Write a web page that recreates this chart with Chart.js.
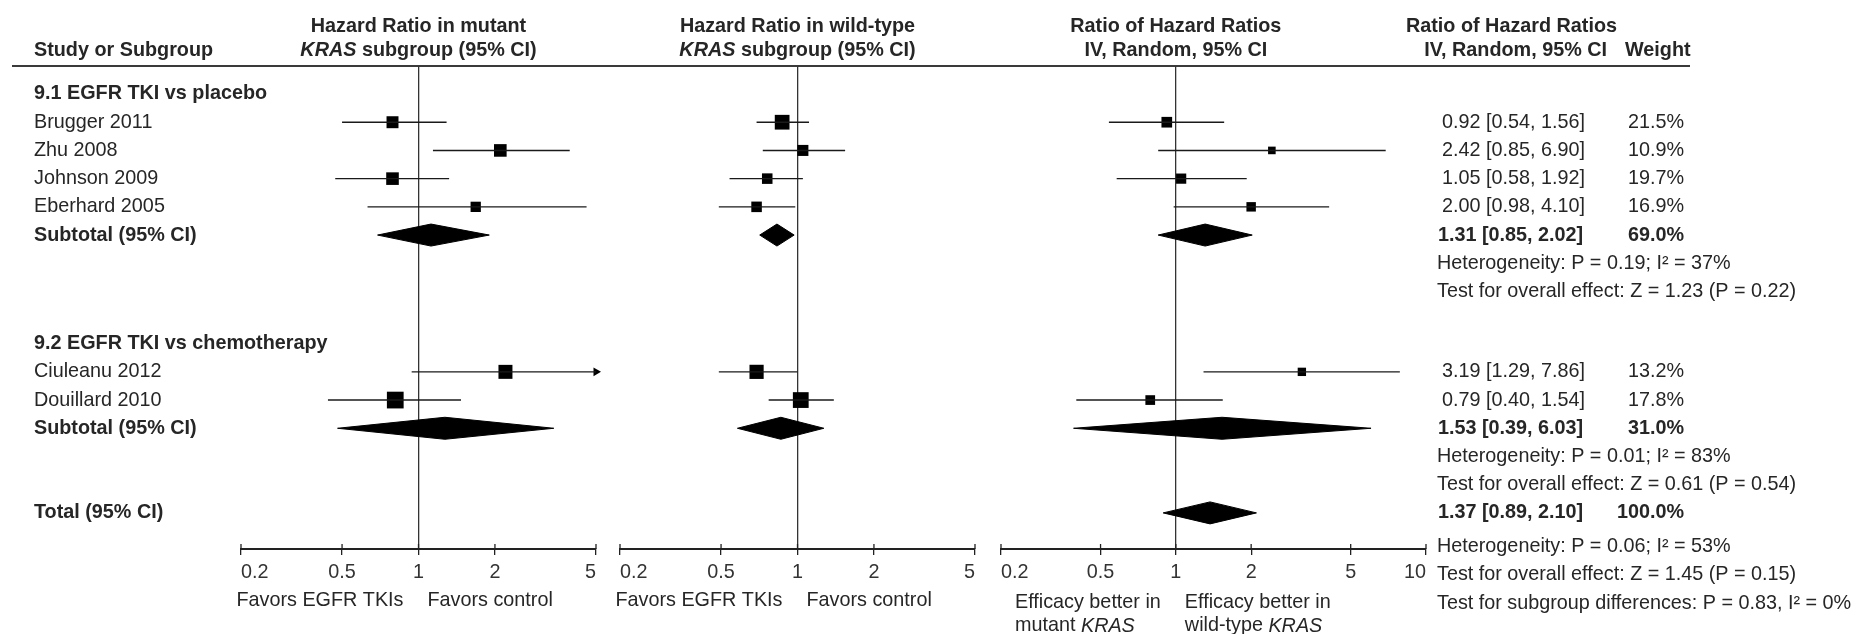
<!DOCTYPE html>
<html>
<head>
<meta charset="utf-8">
<title>KRAS forest plot</title>
<script src="https://cdn.jsdelivr.net/npm/chart.js@4.4.1/dist/chart.umd.min.js"></script>
<style>
  html, body { margin: 0; padding: 0; background: #fff; }
  #wrap { position: relative; width: 1859px; height: 634px; }
  #wrap canvas { position: absolute; left: 0; top: 0; }
</style>
</head>
<body>
<div id="wrap">
  <canvas id="table" width="1859" height="634"></canvas>
  <canvas id="mutant" width="1859" height="634"></canvas>
  <canvas id="wild" width="1859" height="634"></canvas>
  <canvas id="ratio" width="1859" height="634"></canvas>
</div>
<script>
// subgroups and studies
let groupNames = ["9.1 EGFR TKI vs placebo", "9.2 EGFR TKI vs chemotherapy"];
let studyNames = ["Brugger 2011", "Zhu 2008", "Johnson 2009", "Eberhard 2005", "Ciuleanu 2012", "Douillard 2010"];
let studyGroup = [0, 0, 0, 0, 1, 1];

// hazard ratio, mutant KRAS subgroup
let mutantHR = [0.79, 2.10, 0.79, 1.68, 2.20, 0.81];
let mutantLow = [0.50, 1.14, 0.47, 0.63, 0.94, 0.44];
let mutantHigh = [1.29, 3.94, 1.32, 4.59, 5.60, 1.47];
let mutantWeight = [27, 30, 30, 20, 37, 53];
let mutantSubHR = [1.12, 1.27];
let mutantSubLow = [0.69, 0.48];
let mutantSubHigh = [1.90, 3.41];

// hazard ratio, wild-type KRAS subgroup
let wildHR = [0.87, 1.05, 0.76, 0.69, 0.69, 1.03];
let wildLow = [0.69, 0.73, 0.54, 0.49, 0.49, 0.77];
let wildHigh = [1.11, 1.54, 1.05, 0.98, 1.00, 1.39];
let wildWeight = [41, 23, 21, 21, 38, 47];
let wildSubHR = [0.83, 0.86];
let wildSubLow = [0.71, 0.58];
let wildSubHigh = [0.97, 1.27];

// ratio of hazard ratios, IV random
let ratioHR = [0.92, 2.42, 1.05, 2.00, 3.19, 0.79];
let ratioLow = [0.54, 0.85, 0.58, 0.98, 1.29, 0.40];
let ratioHigh = [1.56, 6.90, 1.92, 4.10, 7.86, 1.54];
let ratioWeight = [21.5, 10.9, 19.7, 16.9, 13.2, 17.8];
let ratioSubHR = [1.31, 1.53];
let ratioSubLow = [0.85, 0.39];
let ratioSubHigh = [2.02, 6.03];
let ratioTotal = [1.37, 0.89, 2.10];

// heterogeneity and overall effect tests
let hetP = [0.19, 0.01];
let hetI2 = [37, 83];
let effectZ = [1.23, 0.61];
let effectP = [0.22, 0.54];
let totalHetP = 0.06, totalHetI2 = 53;
let totalZ = 1.45, totalP = 0.15;
let diffP = 0.83, diffI2 = 0;

let ticksHR = [0.2, 0.5, 1, 2, 5];
let ticksRatio = [0.2, 0.5, 1, 2, 5, 10];

// layout
const W = 1859, H = 634;
const RULE_Y = 66, AXIS_Y = 549;
const HEAD1_Y = 27, HEAD2_Y = 51;
const Y_MIN = -0.993, Y_MAX = 16.13;
const FAMILY = "'Liberation Sans', Arial, sans-serif";
const FS = 19.8;
const INK = '#262626';
const BOX_K = 2.3;
const DIAMOND_H = 0.39;

Chart.defaults.animation = false;
Chart.defaults.font.family = FAMILY;
Chart.defaults.font.size = FS;
Chart.defaults.color = INK;

// row order of the table; the blank spacer is a little shorter than a row
let rows = [];
groupNames.forEach((g, gi) => {
  rows.push({kind: 'group', gi});
  studyNames.forEach((s, si) => { if (studyGroup[si] === gi) rows.push({kind: 'study', si}); });
  rows.push({kind: 'subtotal', gi});
  rows.push({kind: 'het', gi});
  rows.push({kind: 'effect', gi});
  if (gi < groupNames.length - 1) rows.push({kind: 'blank'});
});
rows.push({kind: 'total'}, {kind: 'totalHet'}, {kind: 'totalEffect'}, {kind: 'diff'});
rows.forEach((r, k) => {
  const step = r.kind === 'blank' ? 0.85 : r.kind === 'totalHet' ? 1.2 : 1;
  r.pos = k === 0 ? 0 : rows[k - 1].pos + step;
});

let studyRow = studyNames.map((s, si) => rows.find(r => r.kind === 'study' && r.si === si).pos);
let subRow = groupNames.map((g, gi) => rows.find(r => r.kind === 'subtotal' && r.gi === gi).pos);
let totalRow = rows.find(r => r.kind === 'total').pos;

function fontOf(r) {
  return (r.i ? 'italic ' : '') + (r.b ? 'bold ' : '') + FS + 'px ' + FAMILY;
}
function runsWidth(ctx, runs) {
  let w = 0;
  runs.forEach(r => { ctx.font = fontOf(r); w += ctx.measureText(r.t).width; });
  return w;
}
function drawRuns(ctx, runs, x, y, align) {
  let w = runsWidth(ctx, runs);
  let cx = align === 'center' ? x - w / 2 : align === 'right' ? x - w : x;
  ctx.textAlign = 'left';
  ctx.textBaseline = 'middle';
  ctx.fillStyle = INK;
  runs.forEach(r => {
    ctx.font = fontOf(r);
    ctx.fillText(r.t, cx, y);
    cx += ctx.measureText(r.t).width;
  });
}
function ci(a, b, c) {
  return a.toFixed(2) + ' [' + b.toFixed(2) + ', ' + c.toFixed(2) + ']';
}
function sum(arr) { return arr.reduce((s, v) => s + v, 0); }

// left labels and the right-hand statistics column
const tableText = {
  id: 'tableText',
  afterDraw(chart) {
    const ctx = chart.ctx;
    const sy = chart.scales.y;
    const top = chart.chartArea.top;
    ctx.save();
    drawRuns(ctx, [{t: 'Study or Subgroup', b: 1}], 34, HEAD2_Y, 'left');
    drawRuns(ctx, [{t: 'Ratio of Hazard Ratios', b: 1}], 1406, HEAD1_Y, 'left');
    drawRuns(ctx, [{t: 'IV, Random, 95% CI', b: 1}], 1607, HEAD2_Y, 'right');
    drawRuns(ctx, [{t: 'Weight', b: 1}], 1625, HEAD2_Y, 'left');

    ctx.strokeStyle = '#3a3a3a';
    ctx.lineWidth = 2;
    ctx.beginPath();
    ctx.moveTo(12, top);
    ctx.lineTo(1690, top);
    ctx.stroke();

    rows.forEach(r => {
      const y = sy.getPixelForValue(r.pos);
      if (r.kind === 'group') {
        drawRuns(ctx, [{t: groupNames[r.gi], b: 1}], 34, y, 'left');
      } else if (r.kind === 'study') {
        drawRuns(ctx, [{t: studyNames[r.si]}], 34, y, 'left');
        drawRuns(ctx, [{t: ci(ratioHR[r.si], ratioLow[r.si], ratioHigh[r.si])}], 1442, y, 'left');
        drawRuns(ctx, [{t: ratioWeight[r.si].toFixed(1) + '%'}], 1684, y, 'right');
      } else if (r.kind === 'subtotal') {
        const w = sum(ratioWeight.filter((v, si) => studyGroup[si] === r.gi));
        drawRuns(ctx, [{t: 'Subtotal (95% CI)', b: 1}], 34, y, 'left');
        drawRuns(ctx, [{t: ci(ratioSubHR[r.gi], ratioSubLow[r.gi], ratioSubHigh[r.gi]), b: 1}], 1438, y, 'left');
        drawRuns(ctx, [{t: w.toFixed(1) + '%', b: 1}], 1684, y, 'right');
      } else if (r.kind === 'het') {
        drawRuns(ctx, [{t: 'Heterogeneity: P = ' + hetP[r.gi].toFixed(2) + '; I\u00b2 = ' + hetI2[r.gi] + '%'}], 1437, y, 'left');
      } else if (r.kind === 'effect') {
        drawRuns(ctx, [{t: 'Test for overall effect: Z = ' + effectZ[r.gi].toFixed(2) + ' (P = ' + effectP[r.gi].toFixed(2) + ')'}], 1437, y, 'left');
      } else if (r.kind === 'total') {
        drawRuns(ctx, [{t: 'Total (95% CI)', b: 1}], 34, y, 'left');
        drawRuns(ctx, [{t: ci(ratioTotal[0], ratioTotal[1], ratioTotal[2]), b: 1}], 1438, y, 'left');
        drawRuns(ctx, [{t: sum(ratioWeight).toFixed(1) + '%', b: 1}], 1684, y, 'right');
      } else if (r.kind === 'totalHet') {
        drawRuns(ctx, [{t: 'Heterogeneity: P = ' + totalHetP.toFixed(2) + '; I\u00b2 = ' + totalHetI2 + '%'}], 1437, y, 'left');
      } else if (r.kind === 'totalEffect') {
        drawRuns(ctx, [{t: 'Test for overall effect: Z = ' + totalZ.toFixed(2) + ' (P = ' + totalP.toFixed(2) + ')'}], 1437, y, 'left');
      } else if (r.kind === 'diff') {
        drawRuns(ctx, [{t: 'Test for subgroup differences: P = ' + diffP.toFixed(2) + ', I\u00b2 = ' + diffI2 + '%'}], 1437, y, 'left');
      }
    });
    ctx.restore();
  }
};

new Chart('table', {
  type: 'scatter',
  data: { datasets: [] },
  options: {
    responsive: false,
    events: [],
    layout: { autoPadding: false, padding: { top: RULE_Y, bottom: H - AXIS_Y, left: 0, right: 0 } },
    plugins: { legend: { display: false }, tooltip: { enabled: false } },
    scales: {
      x: { type: 'linear', display: false },
      y: { type: 'linear', reverse: true, min: Y_MIN, max: Y_MAX, display: false }
    }
  },
  plugins: [tableText]
});

// header above each panel, upward tick halves and the "favors" captions
const panelText = {
  id: 'panelText',
  afterDraw(chart, args, opts) {
    const ctx = chart.ctx;
    const sx = chart.scales.x;
    const bottom = chart.chartArea.bottom;
    const x1 = sx.getPixelForValue(1);
    ctx.save();
    drawRuns(ctx, opts.title[0], x1, HEAD1_Y, 'center');
    drawRuns(ctx, opts.title[1], x1, HEAD2_Y, 'center');

    ctx.strokeStyle = '#222';
    ctx.lineWidth = 1.3;
    sx.ticks.forEach(t => {
      const px = sx.getPixelForValue(t.value);
      ctx.beginPath();
      ctx.moveTo(px, bottom - 5);
      ctx.lineTo(px, bottom);
      ctx.stroke();
    });

    [[opts.favors[0], x1 - 15, 'right'], [opts.favors[1], x1 + 9, 'left']].forEach(([lines, ax, side]) => {
      const widest = Math.max(...lines.map(l => runsWidth(ctx, l)));
      const left = side === 'right' ? ax - widest : ax;
      const ys = lines.length === 1 ? [bottom + 52] : [bottom + 54, bottom + 77];
      lines.forEach((l, k) => drawRuns(ctx, l, left, ys[k], 'left'));
    });
    ctx.restore();
  }
};

function diamond(est, lo, hi, row) {
  return {
    type: 'line',
    data: [{x: lo, y: row}, {x: est, y: row - DIAMOND_H}, {x: hi, y: row}, {x: est, y: row + DIAMOND_H}, {x: lo, y: row}],
    fill: 'shape', backgroundColor: '#000', borderColor: '#000', borderWidth: 1,
    pointRadius: 0, tension: 0
  };
}

function forestPanel(id, p) {
  const xMax = p.ticks[p.ticks.length - 1];
  const datasets = [];
  p.hr.forEach((v, i) => {
    datasets.push({
      type: 'line',
      data: [{x: p.low[i], y: studyRow[i]}, {x: Math.min(p.high[i], xMax), y: studyRow[i]}],
      borderColor: '#1a1a1a', borderWidth: 1.4, pointRadius: 0, fill: false
    });
  });
  datasets.push({
    type: 'scatter',
    data: p.hr.map((v, i) => ({x: v, y: studyRow[i]})),
    pointStyle: 'rect',
    pointRadius: p.weight.map(w => BOX_K * Math.sqrt(w) / (2 * Math.SQRT1_2)),
    pointBackgroundColor: '#000', pointBorderWidth: 0
  });
  const cut = p.high.map((h, i) => i).filter(i => p.high[i] > xMax);
  if (cut.length) {
    datasets.push({
      type: 'scatter',
      data: cut.map(i => ({x: xMax, y: studyRow[i]})),
      pointStyle: 'triangle', rotation: 90, pointRadius: 5,
      pointBackgroundColor: '#000', pointBorderWidth: 0, clip: false
    });
  }
  p.subHR.forEach((v, gi) => datasets.push(diamond(v, p.subLow[gi], p.subHigh[gi], subRow[gi])));
  if (p.total) datasets.push(diamond(p.total[0], p.total[1], p.total[2], totalRow));

  return new Chart(id, {
    type: 'scatter',
    data: { datasets },
    options: {
      responsive: false,
      events: [],
      layout: { autoPadding: false, padding: { top: RULE_Y, bottom: 0, left: p.left, right: W - p.right } },
      plugins: { legend: { display: false }, tooltip: { enabled: false }, panelText: { title: p.title, favors: p.favors } },
      scales: {
        x: {
          type: 'logarithmic', min: p.ticks[0], max: xMax,
          afterBuildTicks: s => { s.ticks = p.ticks.map(v => ({value: v})); },
          afterFit: s => { s.height = H - AXIS_Y; },
          ticks: { align: 'inner', padding: 6, color: '#333', autoSkip: false, maxRotation: 0, callback: v => String(v) },
          grid: {
            color: c => (c.tick && c.tick.value === 1) ? '#333' : 'rgba(0,0,0,0)',
            lineWidth: 1.3, tickColor: '#222', tickLength: 6, tickWidth: 1.3
          },
          border: { display: true, color: '#222', width: 2 }
        },
        y: { type: 'linear', reverse: true, min: Y_MIN, max: Y_MAX, display: false }
      }
    },
    plugins: [panelText]
  });
}

const favorsHR = [[[{t: 'Favors EGFR TKIs'}]], [[{t: 'Favors control'}]]];

forestPanel('mutant', {
  left: 241, right: 596, ticks: ticksHR,
  hr: mutantHR, low: mutantLow, high: mutantHigh, weight: mutantWeight,
  subHR: mutantSubHR, subLow: mutantSubLow, subHigh: mutantSubHigh,
  title: [[{t: 'Hazard Ratio in mutant', b: 1}], [{t: 'KRAS', b: 1, i: 1}, {t: ' subgroup (95% CI)', b: 1}]],
  favors: favorsHR
});

forestPanel('wild', {
  left: 620, right: 975, ticks: ticksHR,
  hr: wildHR, low: wildLow, high: wildHigh, weight: wildWeight,
  subHR: wildSubHR, subLow: wildSubLow, subHigh: wildSubHigh,
  title: [[{t: 'Hazard Ratio in wild-type', b: 1}], [{t: 'KRAS', b: 1, i: 1}, {t: ' subgroup (95% CI)', b: 1}]],
  favors: favorsHR
});

forestPanel('ratio', {
  left: 1001, right: 1426, ticks: ticksRatio,
  hr: ratioHR, low: ratioLow, high: ratioHigh, weight: ratioWeight,
  subHR: ratioSubHR, subLow: ratioSubLow, subHigh: ratioSubHigh, total: ratioTotal,
  title: [[{t: 'Ratio of Hazard Ratios', b: 1}], [{t: 'IV, Random, 95% CI', b: 1}]],
  favors: [
    [[{t: 'Efficacy better in'}], [{t: 'mutant '}, {t: 'KRAS', i: 1}]],
    [[{t: 'Efficacy better in'}], [{t: 'wild-type '}, {t: 'KRAS', i: 1}]]
  ]
});
</script>
</body>
</html>
